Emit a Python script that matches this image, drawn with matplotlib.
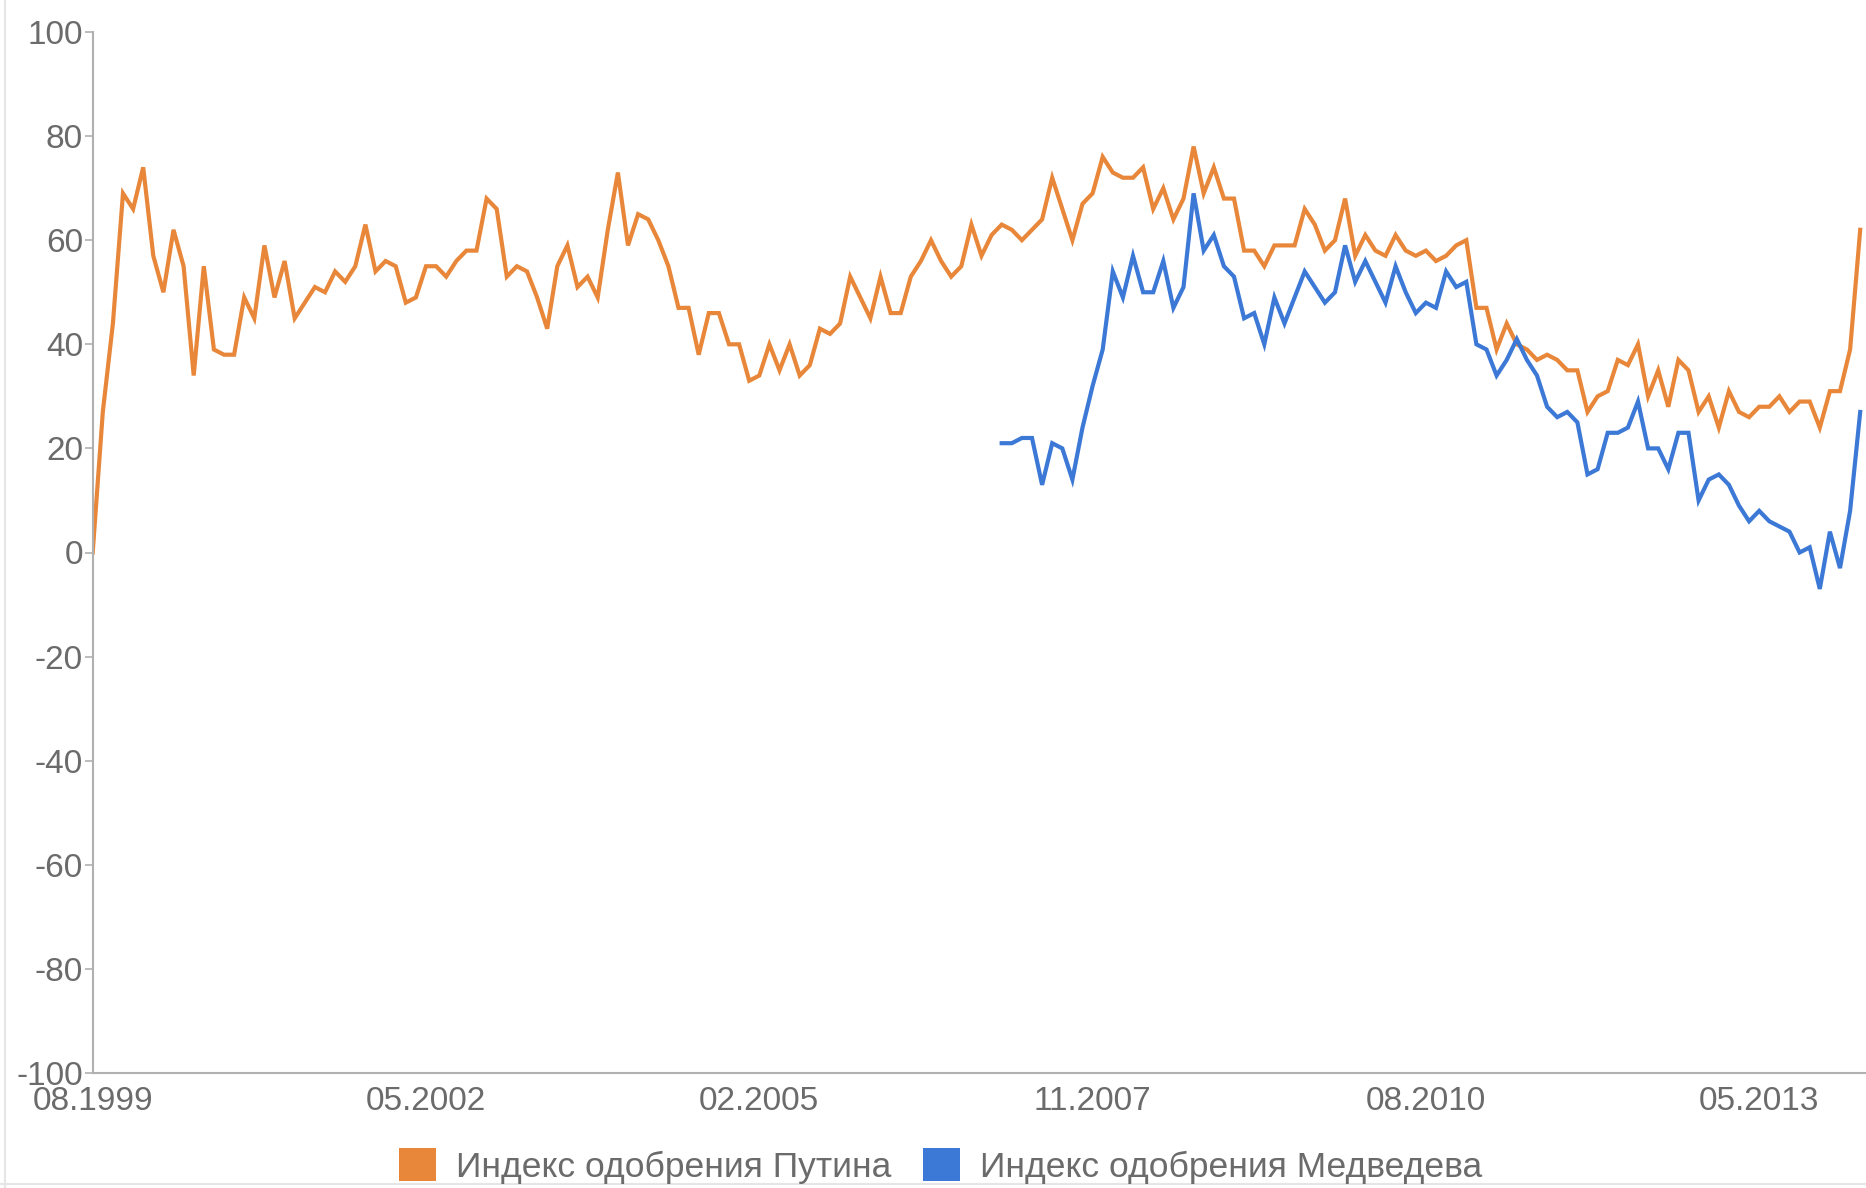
import numpy as np
import matplotlib
matplotlib.use("Agg")
import matplotlib.pyplot as plt
from matplotlib.patches import Patch
from matplotlib.lines import Line2D

# Monthly approval index (approve minus disapprove), 08.1999 .. 03.2014
putin = [
    0, 27, 44, 69, 66, 74, 57, 50, 62, 55, 34, 55, 39, 38, 38, 49, 45, 59, 49, 56,
    45, 48, 51, 50, 54, 52, 55, 63, 54, 56, 55, 48, 49, 55, 55, 53, 56, 58, 58, 68,
    66, 53, 55, 54, 49, 43, 55, 59, 51, 53, 49, 62, 73, 59, 65, 64, 60, 55, 47, 47,
    38, 46, 46, 40, 40, 33, 34, 40, 35, 40, 34, 36, 43, 42, 44, 53, 49, 45, 53, 46,
    46, 53, 56, 60, 56, 53, 55, 63, 57, 61, 63, 62, 60, 62, 64, 72, 66, 60, 67, 69,
    76, 73, 72, 72, 74, 66, 70, 64, 68, 78, 69, 74, 68, 68, 58, 58, 55, 59, 59, 59,
    66, 63, 58, 60, 68, 57, 61, 58, 57, 61, 58, 57, 58, 56, 57, 59, 60, 47, 47, 39,
    44, 40, 39, 37, 38, 37, 35, 35, 27, 30, 31, 37, 36, 40, 30, 35, 28, 37, 35, 27,
    30, 24, 31, 27, 26, 28, 28, 30, 27, 29, 29, 24, 31, 31, 39, 62,
]

# Medvedev series starts in 02.2007 (month index 90)
medvedev_start = 90
medvedev = [
    21, 21, 22, 22, 13, 21, 20, 14, 24, 32, 39, 54, 49, 57, 50, 50, 56, 47, 51, 69,
    58, 61, 55, 53, 45, 46, 40, 49, 44, 49, 54, 51, 48, 50, 59, 52, 56, 52, 48, 55,
    50, 46, 48, 47, 54, 51, 52, 40, 39, 34, 37, 41, 37, 34, 28, 26, 27, 25, 15, 16,
    23, 23, 24, 29, 20, 20, 16, 23, 23, 10, 14, 15, 13, 9, 6, 8, 6, 5, 4, 0,
    1, -7, 4, -3, 8, 27,
]

tick_positions = [0, 33, 66, 99, 132, 165]
tick_labels = ["08.1999", "05.2002", "02.2005", "11.2007", "08.2010", "05.2013"]
y_ticks = [100, 80, 60, 40, 20, 0, -20, -40, -60, -80, -100]

orange = "#e8873a"
blue = "#3c78d6"
grey_text = "#6b6b6b"

plt.rcParams["font.family"] = ["Liberation Sans", "DejaVu Sans"]
plt.rcParams["axes.unicode_minus"] = False

W, H = 1866, 1188
fig = plt.figure(figsize=(W / 100, H / 100), dpi=100)

x0 = 92.7
px_per_month = 10.1
ax = fig.add_axes([x0 / W, 1 - 1073 / H, 1 - x0 / W, (1073 - 32) / H])

xp = np.arange(len(putin))
xm = np.arange(medvedev_start, medvedev_start + len(medvedev))
ax.plot(xp, putin, color=orange, lw=3, solid_joinstyle="miter")
ax.plot(xm, medvedev, color=blue, lw=3, solid_joinstyle="miter")

ax.set_xlim(0, (W - x0) / px_per_month)
ax.set_ylim(-100, 100)
ax.set_yticks(y_ticks)
ax.set_yticklabels([str(v) for v in y_ticks])
ax.set_xticks(tick_positions)
ax.set_xticklabels(tick_labels)

for side in ["top", "right"]:
    ax.spines[side].set_visible(False)
for side in ["left", "bottom"]:
    ax.spines[side].set_color("#b0b0b0")
    ax.spines[side].set_linewidth(1.5)

ax.tick_params(axis="y", length=6, width=1.2, color="#b0b0b0", pad=1,
               labelsize=24, labelcolor=grey_text)
ax.tick_params(axis="x", length=0, pad=9, labelsize=24, labelcolor=grey_text)

handles = [Patch(facecolor=orange, edgecolor="none"),
           Patch(facecolor=blue, edgecolor="none")]
fig.legend(handles, ["Индекс одобрения Путина", "Индекс одобрения Медведева"],
           loc="center", bbox_to_anchor=(0.504, 1 - 1166 / H), ncol=2,
           frameon=False, fontsize=25.5, labelcolor=grey_text,
           handlelength=1.05, handleheight=1.05, handletextpad=0.55,
           columnspacing=0.9)

# faint screenshot border
fig.add_artist(Line2D([5 / W, 5 / W], [0, 1], color="#e6e6e6", lw=1.5))
fig.add_artist(Line2D([0, 1], [1 - 1184 / H, 1 - 1184 / H], color="#e6e6e6", lw=1.5))

fig.savefig("out.png", dpi=100)
